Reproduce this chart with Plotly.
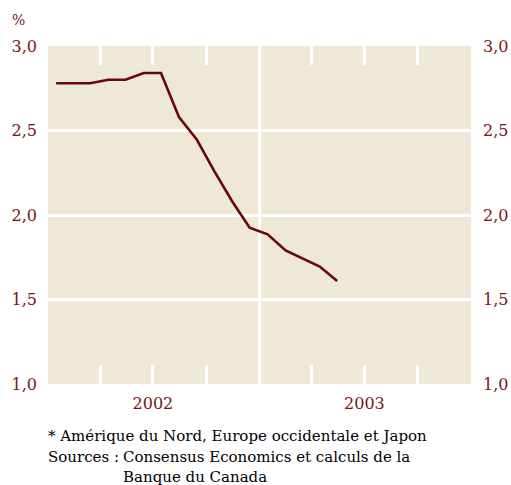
import plotly.graph_objects as go

months = ["2002-01-15", "2002-02-15", "2002-03-15", "2002-04-15", "2002-05-15",
          "2002-06-15", "2002-07-15", "2002-08-15", "2002-09-15", "2002-10-15",
          "2002-11-15", "2002-12-15", "2003-01-15", "2003-02-15", "2003-03-15",
          "2003-04-15", "2003-05-15"]
values = [2.78, 2.78, 2.78, 2.80, 2.80, 2.84, 2.84, 2.58, 2.445, 2.26,
          2.08, 1.925, 1.886, 1.79, 1.745, 1.695, 1.61]

tick_vals = ["2002-04-01", "2002-07-01", "2002-10-01", "2003-04-01", "2003-07-01", "2003-10-01"]
tick_text = ["", "2002", "", "", "2003", ""]
y_ticks = [1.0, 1.5, 2.0, 2.5, 3.0]

RED = "#781616"
LINE = "#6a0808"
BG = "#eee8d6"
FONT = "DejaVu Serif"

# body margin is removed by post_script, so the figure starts at (0, 0)
OFF = 0
W, H = 511, 485
L, R, T, B = 48, 511 - 471, 46, 485 - 384

fig = go.Figure()
fig.add_trace(go.Scatter(x=months, y=values, mode="lines",
                         line=dict(color=LINE, width=2.6), showlegend=False))
fig.add_trace(go.Scatter(x=months, y=values, mode="lines", yaxis="y2",
                         line=dict(color="rgba(0,0,0,0)", width=0),
                         showlegend=False, hoverinfo="skip"))

fig.add_vline(x="2003-01-01", line=dict(color="white", width=3), layer="below")

tf = dict(size=16, color=RED, family=FONT)
fig.update_layout(
    width=W, height=H,
    margin=dict(l=L, r=R, t=T, b=B),
    paper_bgcolor="white", plot_bgcolor=BG,
    separators=", ",
    font=dict(family=FONT, color=RED, size=16),
    xaxis=dict(range=["2002-01-01", "2004-01-01"], tickvals=tick_vals, ticktext=tick_text,
               ticks="inside", ticklen=19, tickwidth=2.5, tickcolor="white",
               mirror="ticks", showline=False, showgrid=False, zeroline=False,
               ticklabelstandoff=8, tickfont=tf, automargin=False),
    yaxis=dict(range=[1.0, 3.0], tickvals=y_ticks, tickformat=".1f",
               showgrid=True, gridcolor="white", gridwidth=3, zeroline=False,
               ticks="", ticklabelstandoff=10, tickfont=tf, automargin=False),
    yaxis2=dict(range=[1.0, 3.0], tickvals=y_ticks, tickformat=".1f", overlaying="y",
                side="right", showgrid=False, zeroline=False, ticks="",
                ticklabelstandoff=11, tickfont=tf, automargin=False),
)

plot_w = W - L - R
plot_h = H - T - B

def px(x):
    return (x - OFF - L) / plot_w

def py(y):
    return (H - B - (y - OFF)) / plot_h

notes = [
    ("%", 12, 20, RED, 14),
    ("* Amérique du Nord, Europe occidentale et Japon", 48, 436, "black", 15),
    ("Sources :", 48, 457, "black", 15),
    ("Consensus Economics et calculs de la", 123, 457, "black", 15),
    ("Banque du Canada", 123, 477, "black", 15),
]
for t, x, y, c, s in notes:
    fig.add_annotation(text=t, x=px(x), y=py(y), xref="paper", yref="paper",
                       xanchor="left", yanchor="middle", showarrow=False,
                       xshift=-2, font=dict(family=FONT, color=c, size=s))

fig.write_html("out.html", config={"displayModeBar": False},
               post_script="document.body.style.margin='0';")
